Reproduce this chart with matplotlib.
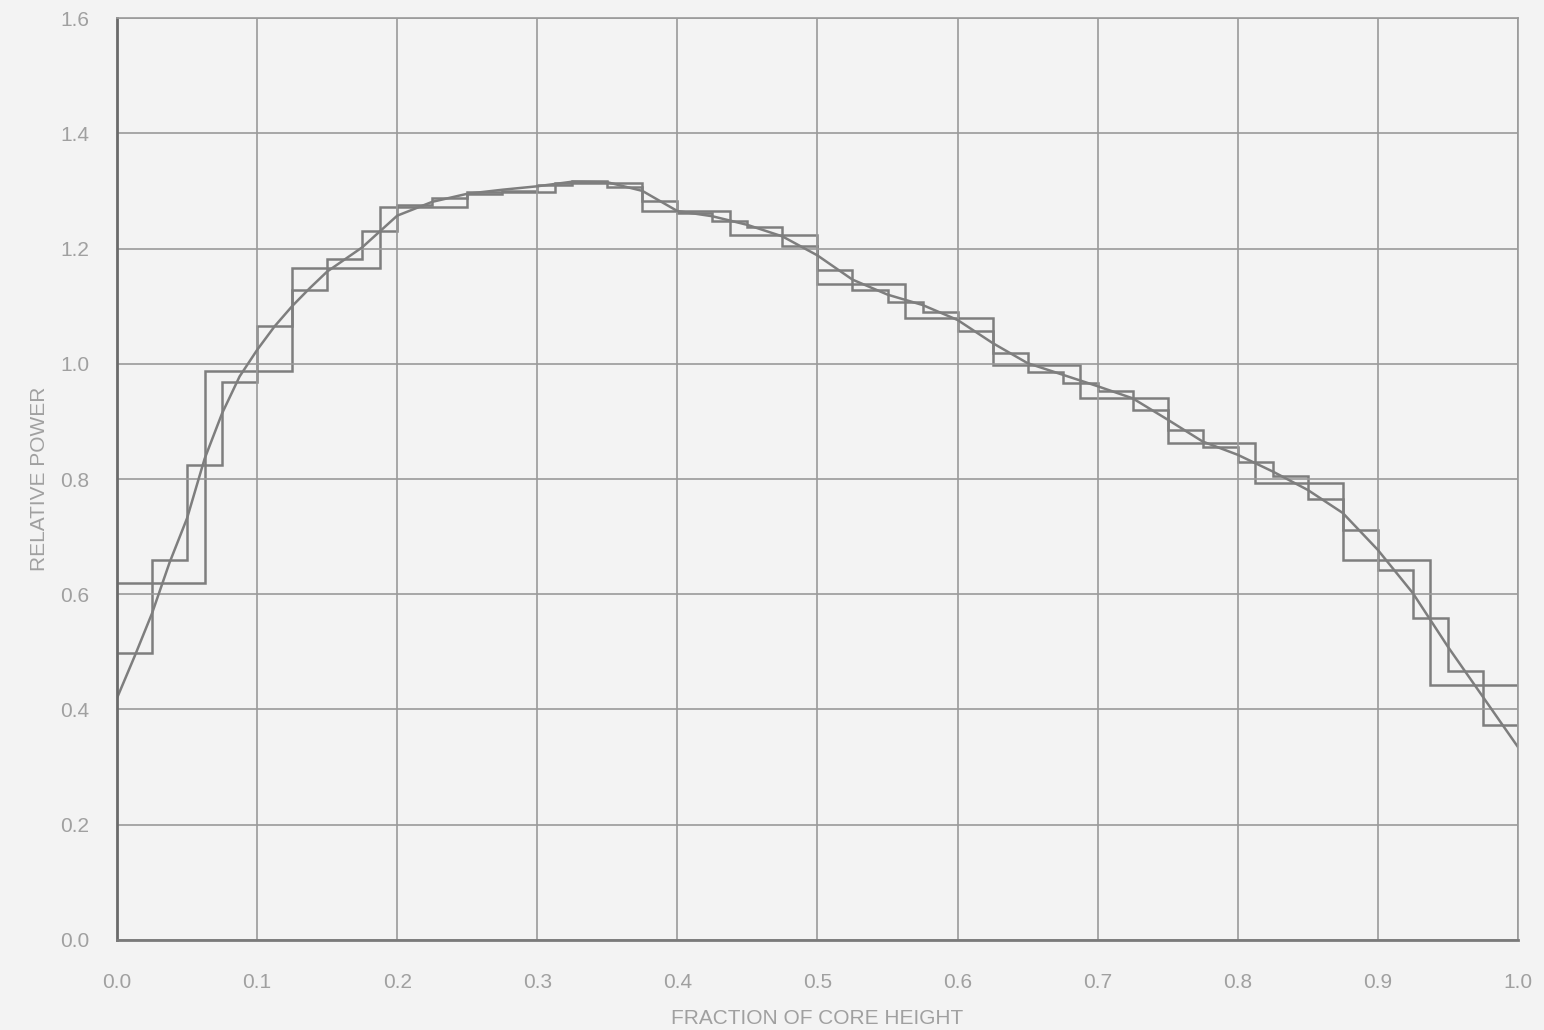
import numpy as np
import matplotlib
matplotlib.use("Agg")
import matplotlib.pyplot as plt

# fine axial nodes (40 segments)
fine_vals = [0.498, 0.660, 0.825, 0.968, 1.066, 1.128, 1.181, 1.231,
             1.276, 1.287, 1.295, 1.300, 1.310, 1.318, 1.306, 1.282,
             1.262, 1.248, 1.237, 1.205, 1.163, 1.128, 1.108, 1.090,
             1.056, 1.018, 0.985, 0.966, 0.953, 0.920, 0.885, 0.855,
             0.830, 0.805, 0.765, 0.712, 0.642, 0.558, 0.466, 0.373]

# coarse axial nodes (16 segments)
coarse_vals = [0.620, 0.988, 1.167, 1.272, 1.298, 1.314, 1.265, 1.224,
               1.138, 1.079, 0.997, 0.940, 0.862, 0.793, 0.660, 0.443]

# continuous shape
curve_x = [0.0, 0.0125, 0.025, 0.0375, 0.05, 0.0625, 0.075, 0.0875, 0.1,
           0.1125, 0.125, 0.1375, 0.15, 0.175, 0.2, 0.225, 0.25, 0.275,
           0.3, 0.325, 0.35, 0.375, 0.4, 0.425, 0.45, 0.475, 0.5, 0.525,
           0.55, 0.575, 0.6, 0.625, 0.65, 0.675, 0.7, 0.725, 0.75, 0.775,
           0.8, 0.825, 0.85, 0.875, 0.9, 0.925, 0.95, 0.975, 1.0]
curve_y = [0.42, 0.492, 0.567, 0.655, 0.732, 0.835, 0.914, 0.978, 1.024,
           1.065, 1.100, 1.131, 1.160, 1.202, 1.257, 1.281, 1.295, 1.302,
           1.308, 1.316, 1.315, 1.300, 1.265, 1.256, 1.241, 1.221, 1.188,
           1.146, 1.120, 1.102, 1.076, 1.036, 1.001, 0.981, 0.961, 0.940,
           0.903, 0.865, 0.842, 0.813, 0.781, 0.741, 0.677, 0.602, 0.509,
           0.422, 0.335]

fine_edges = np.linspace(0, 1, len(fine_vals) + 1)
coarse_edges = np.linspace(0, 1, len(coarse_vals) + 1)

bg = "#f3f3f3"
ink = "#7e7e7e"
txt = "#a0a0a0"

fig = plt.figure(figsize=(15.44, 10.30), dpi=100, facecolor=bg)
ax = fig.add_axes([0.0758, 0.0874, 0.9073, 0.8951], facecolor=bg)

ax.stairs(fine_vals, fine_edges, color=ink, lw=1.8, baseline=None)
ax.stairs(coarse_vals, coarse_edges, color=ink, lw=1.8, baseline=None)
ax.plot(curve_x, curve_y, color=ink, lw=1.8)

ax.set_xlim(0, 1)
ax.set_ylim(0, 1.6)
ax.set_xticks(np.arange(0, 1.01, 0.1))
ax.set_yticks(np.arange(0, 1.61, 0.2))
ax.set_xticklabels([f"{v:.1f}" for v in np.arange(0, 1.01, 0.1)])
ax.set_yticklabels([f"{v:.1f}" for v in np.arange(0, 1.61, 0.2)])
ax.grid(True, color="#9a9a9a", lw=1.2)
ax.tick_params(length=0, colors=txt, labelsize=15)
ax.tick_params(axis="x", pad=24)
ax.tick_params(axis="y", pad=20)
for lab in ax.get_xticklabels() + ax.get_yticklabels():
    lab.set_fontfamily("Liberation Sans")
for s in ax.spines.values():
    s.set_color("#9a9a9a")
    s.set_linewidth(1.2)
ax.spines["left"].set_color("#6a6a6a")
ax.spines["left"].set_linewidth(2.0)
ax.spines["bottom"].set_color("#7a7a7a")
ax.spines["bottom"].set_linewidth(2.0)

ax.set_xlabel("FRACTION OF CORE HEIGHT", color=txt, fontsize=15,
              fontfamily="Liberation Sans", labelpad=12)
ax.set_ylabel("RELATIVE POWER", color=txt, fontsize=15,
              fontfamily="Liberation Sans", labelpad=8)

fig.savefig("out.png", dpi=100, facecolor=bg)
